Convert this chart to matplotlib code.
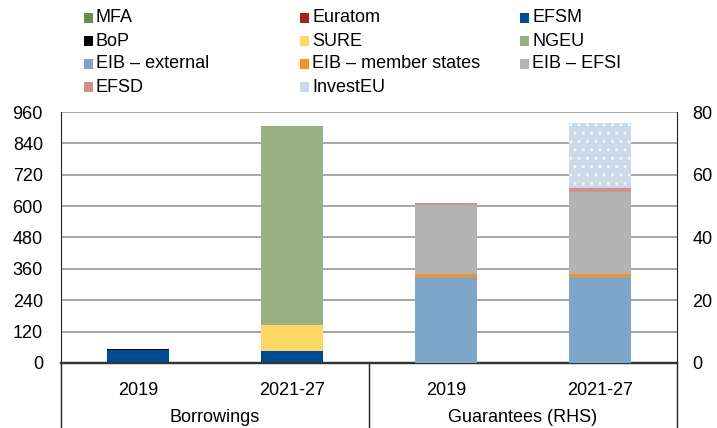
import matplotlib.pyplot as plt
from matplotlib.patches import Rectangle
import numpy as np

plt.rcParams['font.family'] = ['Liberation Sans', 'DejaVu Sans']
plt.rcParams['hatch.linewidth'] = 1.0

# data (EUR bn), left axis: borrowings, right axis: guarantees
periods = ['2019', '2021-27']
groups = ['Borrowings', 'Guarantees (RHS)']

borrow_names = ['EFSM', 'BoP', 'MFA', 'Euratom', 'SURE', 'NGEU']
borrow_vals = {
    'EFSM':    [51, 46],
    'BoP':     [3, 0],
    'MFA':     [0, 0],
    'Euratom': [0, 0],
    'SURE':    [0, 100],
    'NGEU':    [0, 760],
}

guar_names = ['EIB – external', 'EIB – member states', 'EIB – EFSI', 'EFSD', 'InvestEU']
guar_vals = {
    'EIB – external':      [27.5, 27.5],
    'EIB – member states': [1.0, 1.0],
    'EIB – EFSI':          [21.7, 25.9],
    'EFSD':                [0.7, 1.3],
    'InvestEU':            [0.0, 20.7],
}

legend_order = ['MFA', 'Euratom', 'EFSM', 'BoP', 'SURE', 'NGEU',
                'EIB – external', 'EIB – member states', 'EIB – EFSI',
                'EFSD', 'InvestEU']

colors = {
    'MFA': '#6B8E46', 'Euratom': '#A3231C', 'EFSM': '#004C93', 'BoP': '#000000',
    'SURE': '#FDD866', 'NGEU': '#9AAF82', 'EIB – external': '#7FA6C8',
    'EIB – member states': '#F4921F', 'EIB – EFSI': '#B3B3B4', 'EFSD': '#D3908A',
    'InvestEU': '#CADAEA',
}
hatches = {'InvestEU': '..'}

fs = 13
fig = plt.figure(figsize=(7.17, 4.28), dpi=100)
ax1 = fig.add_axes([0.0851, 0.1519, 0.8591, 0.5864])
ax2 = ax1.twinx()

w = 0.4
x_b = np.arange(len(periods))
x_g = np.arange(len(periods)) + len(periods)

bottom = np.zeros(len(periods))
for name in borrow_names:
    v = np.array(borrow_vals[name], dtype=float)
    ax1.bar(x_b, v, w, bottom=bottom, color=colors[name], linewidth=0, zorder=3)
    bottom += v

bottom = np.zeros(len(periods))
for name in guar_names:
    v = np.array(guar_vals[name], dtype=float)
    h = hatches.get(name)
    ax2.bar(x_g, v, w, bottom=bottom, color=colors[name], linewidth=0,
            hatch=h, edgecolor='#F4F8FC' if h else colors[name], zorder=3)
    bottom += v

ax1.set_xlim(-0.5, 3.5)
ax1.set_ylim(0, 960)
ax1.set_yticks(np.arange(0, 961, 120))
ax2.set_ylim(0, 80)
ax2.set_yticks(np.arange(0, 81, 20))

ax1.yaxis.grid(True, color='#A6A6A6', linewidth=1.4, zorder=0)
ax1.set_axisbelow(True)

ax1.set_xticks(np.concatenate([x_b, x_g]))
ax1.set_xticklabels(periods * 2)
ax1.tick_params(axis='x', length=0, pad=14, labelsize=fs)
ax1.tick_params(axis='y', length=0, pad=13, labelsize=fs)
ax2.tick_params(axis='y', length=0, pad=11, labelsize=fs)

for a in (ax1, ax2):
    a.spines['top'].set_visible(False)
    a.spines['left'].set_color('#222222')
    a.spines['right'].set_color('#222222')
    a.spines['bottom'].set_color('#333333')
    a.spines['bottom'].set_linewidth(1.6)
ax1.spines['right'].set_visible(False)
ax2.spines['left'].set_visible(False)

# group separators below the axis
for xs in (0, 0.5, 1):
    ax1.plot([xs, xs], [0, -0.3], transform=ax1.transAxes, color='#222222',
             linewidth=1.0, clip_on=False)
for i, g in enumerate(groups):
    ax1.text(0.25 + 0.5 * i, -0.237, g, transform=ax1.transAxes,
             ha='center', va='baseline', fontsize=fs)

# legend, row-wise in three columns
col_x = [84, 300, 520]
row_y = [18, 41, 64, 87]
W, H = 717, 428
for i, name in enumerate(legend_order):
    cx = col_x[i % 3]
    cy = row_y[i // 3]
    fig.add_artist(Rectangle((cx / W, 1 - (cy + 4.5) / H), 9 / W, 9 / H,
                             transform=fig.transFigure, facecolor=colors[name],
                             linewidth=0))
    fig.text((cx + 12) / W, 1 - cy / H, name, ha='left', va='center', fontsize=fs)

fig.savefig('out.png', dpi=100)
